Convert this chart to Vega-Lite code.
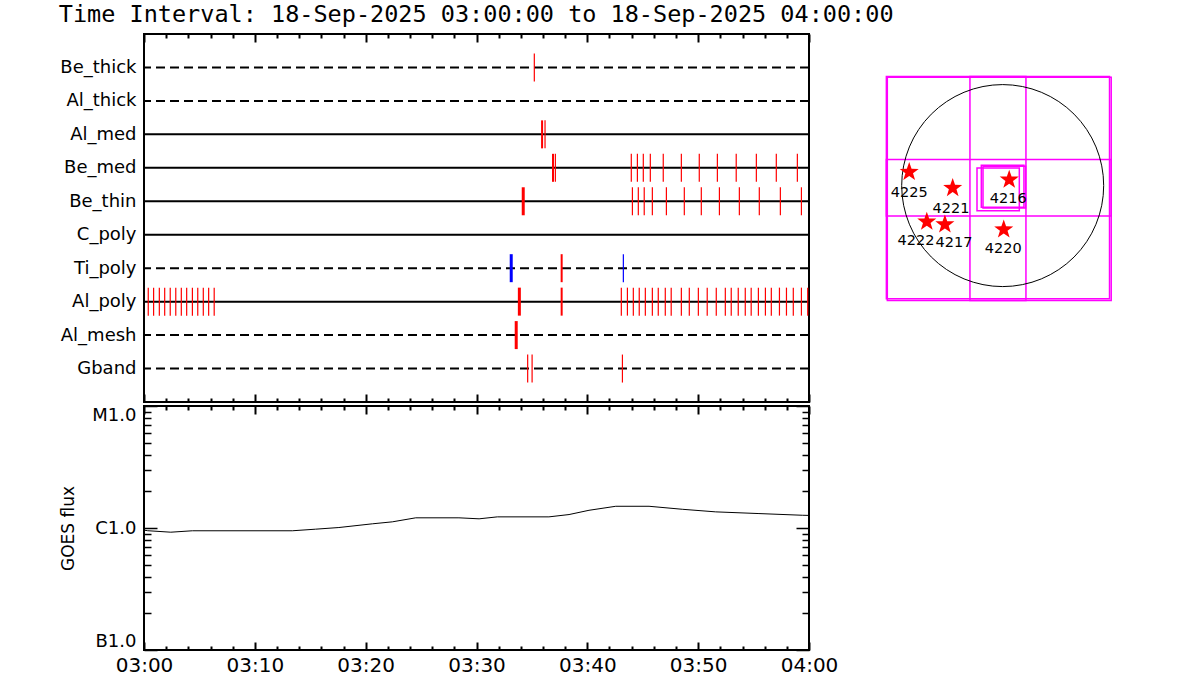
{
  "$schema": "https://vega.github.io/schema/vega-lite/v6.json",
  "padding": {"left": 58, "top": 2, "right": 5, "bottom": 5},
  "background": "white",
  "config": {
    "font": "DejaVu Sans",
    "view": {"stroke": "black", "strokeWidth": 2},
    "axis": {"labelColor": "black", "titleColor": "black", "tickColor": "black", "grid": false, "domain": false, "labelFont": "DejaVu Sans", "titleFont": "DejaVu Sans"}
  },
  "title": {"text": "Time Interval: 18-Sep-2025 03:00:00 to 18-Sep-2025 04:00:00", "anchor": "start", "font": "DejaVu Sans Mono", "fontSize": 23.5, "fontWeight": "normal", "color": "black", "offset": 6},
  "datasets": {
    "filters": [
      {"filter": "Be_thick", "wheel": "FW2"},
      {"filter": "Al_thick", "wheel": "FW2"},
      {"filter": "Al_med", "wheel": "FW1"},
      {"filter": "Be_med", "wheel": "FW1"},
      {"filter": "Be_thin", "wheel": "FW1"},
      {"filter": "C_poly", "wheel": "FW1"},
      {"filter": "Ti_poly", "wheel": "FW2"},
      {"filter": "Al_poly", "wheel": "FW1"},
      {"filter": "Al_mesh", "wheel": "FW2"},
      {"filter": "Gband", "wheel": "FW2"}
    ],
    "obs": [
      {"filter": "Be_thick", "time": "2025-09-18T03:35:13", "group": "A", "weight": "light"},
      {"filter": "Al_med", "time": "2025-09-18T03:35:55", "group": "A", "weight": "medium"},
      {"filter": "Al_med", "time": "2025-09-18T03:36:11", "group": "A", "weight": "light"},
      {"filter": "Be_med", "time": "2025-09-18T03:36:54", "group": "A", "weight": "medium"},
      {"filter": "Be_med", "time": "2025-09-18T03:37:07", "group": "A", "weight": "light"},
      {"filter": "Be_med", "time": "2025-09-18T03:43:58", "group": "A", "weight": "light"},
      {"filter": "Be_med", "time": "2025-09-18T03:44:31", "group": "A", "weight": "light"},
      {"filter": "Be_med", "time": "2025-09-18T03:45:03", "group": "A", "weight": "light"},
      {"filter": "Be_med", "time": "2025-09-18T03:45:41", "group": "A", "weight": "light"},
      {"filter": "Be_med", "time": "2025-09-18T03:46:51", "group": "A", "weight": "light"},
      {"filter": "Be_med", "time": "2025-09-18T03:48:29", "group": "A", "weight": "light"},
      {"filter": "Be_med", "time": "2025-09-18T03:50:06", "group": "A", "weight": "light"},
      {"filter": "Be_med", "time": "2025-09-18T03:51:44", "group": "A", "weight": "light"},
      {"filter": "Be_med", "time": "2025-09-18T03:53:26", "group": "A", "weight": "light"},
      {"filter": "Be_med", "time": "2025-09-18T03:55:15", "group": "A", "weight": "light"},
      {"filter": "Be_med", "time": "2025-09-18T03:57:03", "group": "A", "weight": "light"},
      {"filter": "Be_med", "time": "2025-09-18T03:58:57", "group": "A", "weight": "light"},
      {"filter": "Be_thin", "time": "2025-09-18T03:34:13", "group": "A", "weight": "heavy"},
      {"filter": "Be_thin", "time": "2025-09-18T03:44:04", "group": "A", "weight": "light"},
      {"filter": "Be_thin", "time": "2025-09-18T03:44:36", "group": "A", "weight": "light"},
      {"filter": "Be_thin", "time": "2025-09-18T03:45:08", "group": "A", "weight": "light"},
      {"filter": "Be_thin", "time": "2025-09-18T03:45:52", "group": "A", "weight": "light"},
      {"filter": "Be_thin", "time": "2025-09-18T03:47:08", "group": "A", "weight": "light"},
      {"filter": "Be_thin", "time": "2025-09-18T03:48:45", "group": "A", "weight": "light"},
      {"filter": "Be_thin", "time": "2025-09-18T03:50:17", "group": "A", "weight": "light"},
      {"filter": "Be_thin", "time": "2025-09-18T03:51:55", "group": "A", "weight": "light"},
      {"filter": "Be_thin", "time": "2025-09-18T03:53:43", "group": "A", "weight": "light"},
      {"filter": "Be_thin", "time": "2025-09-18T03:55:31", "group": "A", "weight": "light"},
      {"filter": "Be_thin", "time": "2025-09-18T03:57:25", "group": "A", "weight": "light"},
      {"filter": "Be_thin", "time": "2025-09-18T03:59:19", "group": "A", "weight": "light"},
      {"filter": "Ti_poly", "time": "2025-09-18T03:33:08", "group": "B", "weight": "heavy"},
      {"filter": "Ti_poly", "time": "2025-09-18T03:37:41", "group": "A", "weight": "medium"},
      {"filter": "Ti_poly", "time": "2025-09-18T03:43:15", "group": "B", "weight": "light"},
      {"filter": "Al_poly", "time": "2025-09-18T03:00:23", "group": "A", "weight": "light"},
      {"filter": "Al_poly", "time": "2025-09-18T03:00:52", "group": "A", "weight": "light"},
      {"filter": "Al_poly", "time": "2025-09-18T03:01:23", "group": "A", "weight": "light"},
      {"filter": "Al_poly", "time": "2025-09-18T03:01:52", "group": "A", "weight": "light"},
      {"filter": "Al_poly", "time": "2025-09-18T03:02:22", "group": "A", "weight": "light"},
      {"filter": "Al_poly", "time": "2025-09-18T03:02:52", "group": "A", "weight": "light"},
      {"filter": "Al_poly", "time": "2025-09-18T03:03:22", "group": "A", "weight": "light"},
      {"filter": "Al_poly", "time": "2025-09-18T03:03:51", "group": "A", "weight": "light"},
      {"filter": "Al_poly", "time": "2025-09-18T03:04:22", "group": "A", "weight": "light"},
      {"filter": "Al_poly", "time": "2025-09-18T03:04:51", "group": "A", "weight": "light"},
      {"filter": "Al_poly", "time": "2025-09-18T03:05:21", "group": "A", "weight": "light"},
      {"filter": "Al_poly", "time": "2025-09-18T03:05:50", "group": "A", "weight": "light"},
      {"filter": "Al_poly", "time": "2025-09-18T03:06:20", "group": "A", "weight": "light"},
      {"filter": "Al_poly", "time": "2025-09-18T03:33:52", "group": "A", "weight": "heavy"},
      {"filter": "Al_poly", "time": "2025-09-18T03:37:41", "group": "A", "weight": "medium"},
      {"filter": "Al_poly", "time": "2025-09-18T03:43:04", "group": "A", "weight": "light"},
      {"filter": "Al_poly", "time": "2025-09-18T03:43:37", "group": "A", "weight": "light"},
      {"filter": "Al_poly", "time": "2025-09-18T03:44:09", "group": "A", "weight": "light"},
      {"filter": "Al_poly", "time": "2025-09-18T03:44:41", "group": "A", "weight": "light"},
      {"filter": "Al_poly", "time": "2025-09-18T03:45:14", "group": "A", "weight": "light"},
      {"filter": "Al_poly", "time": "2025-09-18T03:45:52", "group": "A", "weight": "light"},
      {"filter": "Al_poly", "time": "2025-09-18T03:46:24", "group": "A", "weight": "light"},
      {"filter": "Al_poly", "time": "2025-09-18T03:47:02", "group": "A", "weight": "light"},
      {"filter": "Al_poly", "time": "2025-09-18T03:47:34", "group": "A", "weight": "light"},
      {"filter": "Al_poly", "time": "2025-09-18T03:48:29", "group": "A", "weight": "light"},
      {"filter": "Al_poly", "time": "2025-09-18T03:49:12", "group": "A", "weight": "light"},
      {"filter": "Al_poly", "time": "2025-09-18T03:50:01", "group": "A", "weight": "light"},
      {"filter": "Al_poly", "time": "2025-09-18T03:50:49", "group": "A", "weight": "light"},
      {"filter": "Al_poly", "time": "2025-09-18T03:51:38", "group": "A", "weight": "light"},
      {"filter": "Al_poly", "time": "2025-09-18T03:52:27", "group": "A", "weight": "light"},
      {"filter": "Al_poly", "time": "2025-09-18T03:52:59", "group": "A", "weight": "light"},
      {"filter": "Al_poly", "time": "2025-09-18T03:53:37", "group": "A", "weight": "light"},
      {"filter": "Al_poly", "time": "2025-09-18T03:54:15", "group": "A", "weight": "light"},
      {"filter": "Al_poly", "time": "2025-09-18T03:54:47", "group": "A", "weight": "light"},
      {"filter": "Al_poly", "time": "2025-09-18T03:55:26", "group": "A", "weight": "light"},
      {"filter": "Al_poly", "time": "2025-09-18T03:56:04", "group": "A", "weight": "light"},
      {"filter": "Al_poly", "time": "2025-09-18T03:56:36", "group": "A", "weight": "light"},
      {"filter": "Al_poly", "time": "2025-09-18T03:57:20", "group": "A", "weight": "light"},
      {"filter": "Al_poly", "time": "2025-09-18T03:57:58", "group": "A", "weight": "light"},
      {"filter": "Al_poly", "time": "2025-09-18T03:58:35", "group": "A", "weight": "light"},
      {"filter": "Al_poly", "time": "2025-09-18T03:59:19", "group": "A", "weight": "light"},
      {"filter": "Al_poly", "time": "2025-09-18T03:59:53", "group": "A", "weight": "light"},
      {"filter": "Al_mesh", "time": "2025-09-18T03:33:35", "group": "A", "weight": "heavy"},
      {"filter": "Gband", "time": "2025-09-18T03:34:37", "group": "A", "weight": "light"},
      {"filter": "Gband", "time": "2025-09-18T03:35:01", "group": "A", "weight": "light"},
      {"filter": "Gband", "time": "2025-09-18T03:43:10", "group": "A", "weight": "light"}
    ],
    "goes": [
      {"time": "2025-09-18T03:00:00", "flux": 9.6e-7},
      {"time": "2025-09-18T03:00:20", "flux": 9.5e-7},
      {"time": "2025-09-18T03:02:25", "flux": 9.24e-7},
      {"time": "2025-09-18T03:04:22", "flux": 9.49e-7},
      {"time": "2025-09-18T03:13:23", "flux": 9.49e-7},
      {"time": "2025-09-18T03:15:29", "flux": 9.78e-7},
      {"time": "2025-09-18T03:17:35", "flux": 1.009e-6},
      {"time": "2025-09-18T03:20:36", "flux": 1.082e-6},
      {"time": "2025-09-18T03:22:24", "flux": 1.123e-6},
      {"time": "2025-09-18T03:24:31", "flux": 1.212e-6},
      {"time": "2025-09-18T03:28:25", "flux": 1.212e-6},
      {"time": "2025-09-18T03:30:14", "flux": 1.189e-6},
      {"time": "2025-09-18T03:31:53", "flux": 1.234e-6},
      {"time": "2025-09-18T03:36:32", "flux": 1.234e-6},
      {"time": "2025-09-18T03:38:21", "flux": 1.289e-6},
      {"time": "2025-09-18T03:40:09", "flux": 1.397e-6},
      {"time": "2025-09-18T03:42:34", "flux": 1.507e-6},
      {"time": "2025-09-18T03:45:34", "flux": 1.507e-6},
      {"time": "2025-09-18T03:48:34", "flux": 1.424e-6},
      {"time": "2025-09-18T03:51:35", "flux": 1.356e-6},
      {"time": "2025-09-18T03:55:29", "flux": 1.313e-6},
      {"time": "2025-09-18T03:59:24", "flux": 1.272e-6},
      {"time": "2025-09-18T04:00:00", "flux": 1.268e-6}
    ],
    "fov": [
      {"x1": -1105, "x2": 1015, "y1": 1037, "y2": -1076},
      {"x1": -1096, "x2": 1031, "y1": 1028, "y2": -1092},
      {"x1": -311, "x2": 221, "y1": 1037, "y2": -1092},
      {"x1": -1105, "x2": 1031, "y1": 247, "y2": -289},
      {"x1": -244, "x2": 158, "y1": 167, "y2": -238},
      {"x1": -203, "x2": 202, "y1": 193, "y2": -206},
      {"x1": -187, "x2": 218, "y1": 183, "y2": -213}
    ],
    "regions": [
      {"noaa": "4225", "x": -888, "y": 129, "lx": -888, "ly": -66},
      {"noaa": "4221", "x": -475, "y": -24, "lx": -491, "ly": -223},
      {"noaa": "4216", "x": 62, "y": 56, "lx": 52, "ly": -129},
      {"noaa": "4222", "x": -721, "y": -343, "lx": -824, "ly": -526},
      {"noaa": "4217", "x": -549, "y": -369, "lx": -463, "ly": -550},
      {"noaa": "4220", "x": 10, "y": -417, "lx": 5, "ly": -599}
    ],
    "sun": [{"x": 0, "y": 0}]
  },
  "hconcat": [
    {
      "vconcat": [
        {
          "width": 665,
          "height": 368,
          "resolve": {"axis": {"x": "independent"}},
          "layer": [
            {
              "data": {"name": "filters"},
              "mark": {"type": "rule", "color": "black", "strokeWidth": 2},
              "encoding": {
                "y": {"field": "filter", "type": "nominal", "scale": {"type": "point", "padding": 1, "domain": ["Be_thick", "Al_thick", "Al_med", "Be_med", "Be_thin", "C_poly", "Ti_poly", "Al_poly", "Al_mesh", "Gband"]}, "axis": {"title": null, "ticks": false, "domain": false, "labelFontSize": 18, "labelPadding": 8, "labelColor": "black"}},
                "strokeDash": {"field": "wheel", "type": "nominal", "scale": {"domain": ["FW1", "FW2"], "range": [[1, 0], [9, 5]]}, "legend": null}
              }
            },
            {
              "data": {"name": "obs"},
              "transform": [{"filter": "datum.weight == 'heavy'"}],
              "mark": {"type": "tick", "orient": "vertical", "size": 28, "thickness": 3, "opacity": 1},
              "encoding": {
                "x": {"field": "time", "type": "temporal", "scale": {"domain": [{"year": 2025, "month": 9, "date": 18, "hours": 3}, {"year": 2025, "month": 9, "date": 18, "hours": 4}], "nice": false}, "axis": {"orient": "bottom", "title": null, "labels": false, "domain": false, "offset": -8, "tickSize": 8, "tickWidth": 2, "minExtent": 0, "maxExtent": 0, "values": [{"year": 2025, "month": 9, "date": 18, "hours": 3, "minutes": 0}, {"year": 2025, "month": 9, "date": 18, "hours": 3, "minutes": 10}, {"year": 2025, "month": 9, "date": 18, "hours": 3, "minutes": 20}, {"year": 2025, "month": 9, "date": 18, "hours": 3, "minutes": 30}, {"year": 2025, "month": 9, "date": 18, "hours": 3, "minutes": 40}, {"year": 2025, "month": 9, "date": 18, "hours": 3, "minutes": 50}, {"year": 2025, "month": 9, "date": 18, "hours": 4, "minutes": 0}]}},
                "y": {"field": "filter", "type": "nominal"},
                "color": {"field": "group", "type": "nominal", "scale": {"domain": ["A", "B"], "range": ["#ff0000", "#0000ff"]}, "legend": null}
              }
            },
            {
              "data": {"name": "obs"},
              "transform": [{"filter": "datum.weight == 'medium'"}],
              "mark": {"type": "tick", "orient": "vertical", "size": 28, "thickness": 2, "opacity": 1},
              "encoding": {
                "x": {"field": "time", "type": "temporal", "axis": {"orient": "top", "title": null, "labels": false, "domain": false, "offset": -8, "tickSize": 8, "tickWidth": 2, "minExtent": 0, "maxExtent": 0, "values": [{"year": 2025, "month": 9, "date": 18, "hours": 3, "minutes": 0}, {"year": 2025, "month": 9, "date": 18, "hours": 3, "minutes": 10}, {"year": 2025, "month": 9, "date": 18, "hours": 3, "minutes": 20}, {"year": 2025, "month": 9, "date": 18, "hours": 3, "minutes": 30}, {"year": 2025, "month": 9, "date": 18, "hours": 3, "minutes": 40}, {"year": 2025, "month": 9, "date": 18, "hours": 3, "minutes": 50}, {"year": 2025, "month": 9, "date": 18, "hours": 4, "minutes": 0}]}},
                "y": {"field": "filter", "type": "nominal"},
                "color": {"field": "group", "type": "nominal", "legend": null}
              }
            },
            {
              "data": {"name": "obs"},
              "transform": [{"filter": "datum.weight == 'light'"}],
              "mark": {"type": "tick", "orient": "vertical", "size": 28, "thickness": 1.2, "opacity": 1},
              "encoding": {
                "x": {"field": "time", "type": "temporal", "axis": {"orient": "bottom", "title": null, "labels": false, "domain": false, "offset": -4, "tickSize": 4, "tickWidth": 2, "minExtent": 0, "maxExtent": 0, "values": [{"year": 2025, "month": 9, "date": 18, "hours": 3, "minutes": 2}, {"year": 2025, "month": 9, "date": 18, "hours": 3, "minutes": 4}, {"year": 2025, "month": 9, "date": 18, "hours": 3, "minutes": 6}, {"year": 2025, "month": 9, "date": 18, "hours": 3, "minutes": 8}, {"year": 2025, "month": 9, "date": 18, "hours": 3, "minutes": 12}, {"year": 2025, "month": 9, "date": 18, "hours": 3, "minutes": 14}, {"year": 2025, "month": 9, "date": 18, "hours": 3, "minutes": 16}, {"year": 2025, "month": 9, "date": 18, "hours": 3, "minutes": 18}, {"year": 2025, "month": 9, "date": 18, "hours": 3, "minutes": 22}, {"year": 2025, "month": 9, "date": 18, "hours": 3, "minutes": 24}, {"year": 2025, "month": 9, "date": 18, "hours": 3, "minutes": 26}, {"year": 2025, "month": 9, "date": 18, "hours": 3, "minutes": 28}, {"year": 2025, "month": 9, "date": 18, "hours": 3, "minutes": 32}, {"year": 2025, "month": 9, "date": 18, "hours": 3, "minutes": 34}, {"year": 2025, "month": 9, "date": 18, "hours": 3, "minutes": 36}, {"year": 2025, "month": 9, "date": 18, "hours": 3, "minutes": 38}, {"year": 2025, "month": 9, "date": 18, "hours": 3, "minutes": 42}, {"year": 2025, "month": 9, "date": 18, "hours": 3, "minutes": 44}, {"year": 2025, "month": 9, "date": 18, "hours": 3, "minutes": 46}, {"year": 2025, "month": 9, "date": 18, "hours": 3, "minutes": 48}, {"year": 2025, "month": 9, "date": 18, "hours": 3, "minutes": 52}, {"year": 2025, "month": 9, "date": 18, "hours": 3, "minutes": 54}, {"year": 2025, "month": 9, "date": 18, "hours": 3, "minutes": 56}, {"year": 2025, "month": 9, "date": 18, "hours": 3, "minutes": 58}]}},
                "y": {"field": "filter", "type": "nominal"},
                "color": {"field": "group", "type": "nominal", "legend": null}
              }
            },
            {
              "data": {"name": "obs"},
              "mark": {"type": "tick", "orient": "vertical", "size": 28, "thickness": 1, "opacity": 0},
              "encoding": {
                "x": {"field": "time", "type": "temporal", "axis": {"orient": "top", "title": null, "labels": false, "domain": false, "offset": -4, "tickSize": 4, "tickWidth": 2, "minExtent": 0, "maxExtent": 0, "values": [{"year": 2025, "month": 9, "date": 18, "hours": 3, "minutes": 2}, {"year": 2025, "month": 9, "date": 18, "hours": 3, "minutes": 4}, {"year": 2025, "month": 9, "date": 18, "hours": 3, "minutes": 6}, {"year": 2025, "month": 9, "date": 18, "hours": 3, "minutes": 8}, {"year": 2025, "month": 9, "date": 18, "hours": 3, "minutes": 12}, {"year": 2025, "month": 9, "date": 18, "hours": 3, "minutes": 14}, {"year": 2025, "month": 9, "date": 18, "hours": 3, "minutes": 16}, {"year": 2025, "month": 9, "date": 18, "hours": 3, "minutes": 18}, {"year": 2025, "month": 9, "date": 18, "hours": 3, "minutes": 22}, {"year": 2025, "month": 9, "date": 18, "hours": 3, "minutes": 24}, {"year": 2025, "month": 9, "date": 18, "hours": 3, "minutes": 26}, {"year": 2025, "month": 9, "date": 18, "hours": 3, "minutes": 28}, {"year": 2025, "month": 9, "date": 18, "hours": 3, "minutes": 32}, {"year": 2025, "month": 9, "date": 18, "hours": 3, "minutes": 34}, {"year": 2025, "month": 9, "date": 18, "hours": 3, "minutes": 36}, {"year": 2025, "month": 9, "date": 18, "hours": 3, "minutes": 38}, {"year": 2025, "month": 9, "date": 18, "hours": 3, "minutes": 42}, {"year": 2025, "month": 9, "date": 18, "hours": 3, "minutes": 44}, {"year": 2025, "month": 9, "date": 18, "hours": 3, "minutes": 46}, {"year": 2025, "month": 9, "date": 18, "hours": 3, "minutes": 48}, {"year": 2025, "month": 9, "date": 18, "hours": 3, "minutes": 52}, {"year": 2025, "month": 9, "date": 18, "hours": 3, "minutes": 54}, {"year": 2025, "month": 9, "date": 18, "hours": 3, "minutes": 56}, {"year": 2025, "month": 9, "date": 18, "hours": 3, "minutes": 58}]}},
                "y": {"field": "filter", "type": "nominal"}
              }
            }
          ]
        },
        {
          "width": 665,
          "height": 244,
          "resolve": {"axis": {"x": "independent", "y": "independent"}},
          "layer": [
            {
              "data": {"name": "goes"},
              "mark": {"type": "line", "color": "black", "strokeWidth": 1},
              "encoding": {
                "x": {"field": "time", "type": "temporal", "scale": {"domain": [{"year": 2025, "month": 9, "date": 18, "hours": 3}, {"year": 2025, "month": 9, "date": 18, "hours": 4}], "nice": false}, "axis": {"orient": "bottom", "title": null, "format": "%H:%M", "labelFontSize": 20, "labelPadding": 5, "domain": false, "offset": -8, "tickSize": 8, "tickWidth": 2, "labelFlush": false, "labelOverlap": false, "values": [{"year": 2025, "month": 9, "date": 18, "hours": 3, "minutes": 0}, {"year": 2025, "month": 9, "date": 18, "hours": 3, "minutes": 10}, {"year": 2025, "month": 9, "date": 18, "hours": 3, "minutes": 20}, {"year": 2025, "month": 9, "date": 18, "hours": 3, "minutes": 30}, {"year": 2025, "month": 9, "date": 18, "hours": 3, "minutes": 40}, {"year": 2025, "month": 9, "date": 18, "hours": 3, "minutes": 50}, {"year": 2025, "month": 9, "date": 18, "hours": 4, "minutes": 0}]}},
                "y": {"field": "flux", "type": "quantitative", "scale": {"type": "log", "domain": [1e-7, 1e-5], "nice": false}, "axis": {"orient": "left", "title": "GOES flux", "titleFontSize": 17, "titleFontWeight": "normal", "titlePadding": 14, "labelFontSize": 18, "labelPadding": 8, "domain": false, "offset": -13, "tickSize": 13, "tickWidth": 1.5, "values": [1e-7, 1e-6, 1e-5], "labelExpr": "datum.value > 5e-6 ? 'M1.0' : datum.value > 5e-7 ? 'C1.0' : 'B1.0'", "labelFlush": true, "labelOverlap": false}}
              }
            },
            {
              "data": {"name": "goes"},
              "mark": {"type": "line", "color": "black", "opacity": 0},
              "encoding": {
                "x": {"field": "time", "type": "temporal", "axis": {"orient": "top", "title": null, "labels": false, "domain": false, "offset": -8, "tickSize": 8, "tickWidth": 2, "minExtent": 0, "maxExtent": 0, "values": [{"year": 2025, "month": 9, "date": 18, "hours": 3, "minutes": 0}, {"year": 2025, "month": 9, "date": 18, "hours": 3, "minutes": 10}, {"year": 2025, "month": 9, "date": 18, "hours": 3, "minutes": 20}, {"year": 2025, "month": 9, "date": 18, "hours": 3, "minutes": 30}, {"year": 2025, "month": 9, "date": 18, "hours": 3, "minutes": 40}, {"year": 2025, "month": 9, "date": 18, "hours": 3, "minutes": 50}, {"year": 2025, "month": 9, "date": 18, "hours": 4, "minutes": 0}]}},
                "y": {"field": "flux", "type": "quantitative", "axis": {"orient": "right", "title": null, "labels": false, "domain": false, "offset": -13, "tickSize": 13, "tickWidth": 1.5, "minExtent": 0, "maxExtent": 0, "values": [1e-7, 1e-6, 1e-5]}}
              }
            },
            {
              "data": {"name": "goes"},
              "mark": {"type": "line", "color": "black", "opacity": 0},
              "encoding": {
                "x": {"field": "time", "type": "temporal", "axis": {"orient": "bottom", "title": null, "labels": false, "domain": false, "offset": -4, "tickSize": 4, "tickWidth": 2, "minExtent": 0, "maxExtent": 0, "values": [{"year": 2025, "month": 9, "date": 18, "hours": 3, "minutes": 2}, {"year": 2025, "month": 9, "date": 18, "hours": 3, "minutes": 4}, {"year": 2025, "month": 9, "date": 18, "hours": 3, "minutes": 6}, {"year": 2025, "month": 9, "date": 18, "hours": 3, "minutes": 8}, {"year": 2025, "month": 9, "date": 18, "hours": 3, "minutes": 12}, {"year": 2025, "month": 9, "date": 18, "hours": 3, "minutes": 14}, {"year": 2025, "month": 9, "date": 18, "hours": 3, "minutes": 16}, {"year": 2025, "month": 9, "date": 18, "hours": 3, "minutes": 18}, {"year": 2025, "month": 9, "date": 18, "hours": 3, "minutes": 22}, {"year": 2025, "month": 9, "date": 18, "hours": 3, "minutes": 24}, {"year": 2025, "month": 9, "date": 18, "hours": 3, "minutes": 26}, {"year": 2025, "month": 9, "date": 18, "hours": 3, "minutes": 28}, {"year": 2025, "month": 9, "date": 18, "hours": 3, "minutes": 32}, {"year": 2025, "month": 9, "date": 18, "hours": 3, "minutes": 34}, {"year": 2025, "month": 9, "date": 18, "hours": 3, "minutes": 36}, {"year": 2025, "month": 9, "date": 18, "hours": 3, "minutes": 38}, {"year": 2025, "month": 9, "date": 18, "hours": 3, "minutes": 42}, {"year": 2025, "month": 9, "date": 18, "hours": 3, "minutes": 44}, {"year": 2025, "month": 9, "date": 18, "hours": 3, "minutes": 46}, {"year": 2025, "month": 9, "date": 18, "hours": 3, "minutes": 48}, {"year": 2025, "month": 9, "date": 18, "hours": 3, "minutes": 52}, {"year": 2025, "month": 9, "date": 18, "hours": 3, "minutes": 54}, {"year": 2025, "month": 9, "date": 18, "hours": 3, "minutes": 56}, {"year": 2025, "month": 9, "date": 18, "hours": 3, "minutes": 58}]}},
                "y": {"field": "flux", "type": "quantitative", "axis": {"orient": "left", "title": null, "labels": false, "domain": false, "offset": -7, "tickSize": 7, "tickWidth": 1.5, "minExtent": 0, "maxExtent": 0, "values": [2e-7, 3e-7, 4e-7, 5e-7, 6e-7, 7e-7, 8e-7, 9e-7, 2e-6, 3e-6, 4e-6, 5e-6, 6e-6, 7e-6, 8e-6, 9e-6]}}
              }
            },
            {
              "data": {"name": "goes"},
              "mark": {"type": "line", "color": "black", "opacity": 0},
              "encoding": {
                "x": {"field": "time", "type": "temporal", "axis": {"orient": "top", "title": null, "labels": false, "domain": false, "offset": -4, "tickSize": 4, "tickWidth": 2, "minExtent": 0, "maxExtent": 0, "values": [{"year": 2025, "month": 9, "date": 18, "hours": 3, "minutes": 2}, {"year": 2025, "month": 9, "date": 18, "hours": 3, "minutes": 4}, {"year": 2025, "month": 9, "date": 18, "hours": 3, "minutes": 6}, {"year": 2025, "month": 9, "date": 18, "hours": 3, "minutes": 8}, {"year": 2025, "month": 9, "date": 18, "hours": 3, "minutes": 12}, {"year": 2025, "month": 9, "date": 18, "hours": 3, "minutes": 14}, {"year": 2025, "month": 9, "date": 18, "hours": 3, "minutes": 16}, {"year": 2025, "month": 9, "date": 18, "hours": 3, "minutes": 18}, {"year": 2025, "month": 9, "date": 18, "hours": 3, "minutes": 22}, {"year": 2025, "month": 9, "date": 18, "hours": 3, "minutes": 24}, {"year": 2025, "month": 9, "date": 18, "hours": 3, "minutes": 26}, {"year": 2025, "month": 9, "date": 18, "hours": 3, "minutes": 28}, {"year": 2025, "month": 9, "date": 18, "hours": 3, "minutes": 32}, {"year": 2025, "month": 9, "date": 18, "hours": 3, "minutes": 34}, {"year": 2025, "month": 9, "date": 18, "hours": 3, "minutes": 36}, {"year": 2025, "month": 9, "date": 18, "hours": 3, "minutes": 38}, {"year": 2025, "month": 9, "date": 18, "hours": 3, "minutes": 42}, {"year": 2025, "month": 9, "date": 18, "hours": 3, "minutes": 44}, {"year": 2025, "month": 9, "date": 18, "hours": 3, "minutes": 46}, {"year": 2025, "month": 9, "date": 18, "hours": 3, "minutes": 48}, {"year": 2025, "month": 9, "date": 18, "hours": 3, "minutes": 52}, {"year": 2025, "month": 9, "date": 18, "hours": 3, "minutes": 54}, {"year": 2025, "month": 9, "date": 18, "hours": 3, "minutes": 56}, {"year": 2025, "month": 9, "date": 18, "hours": 3, "minutes": 58}]}},
                "y": {"field": "flux", "type": "quantitative", "axis": {"orient": "right", "title": null, "labels": false, "domain": false, "offset": -7, "tickSize": 7, "tickWidth": 1.5, "minExtent": 0, "maxExtent": 0, "values": [2e-7, 3e-7, 4e-7, 5e-7, 6e-7, 7e-7, 8e-7, 9e-7, 2e-6, 3e-6, 4e-6, 5e-6, 6e-6, 7e-6, 8e-6, 9e-6]}}
              }
            }
          ]
        }
      ],
      "spacing": 0
    },
    {
      "width": 280,
      "height": 368,
      "view": {"stroke": null},
      "layer": [
        {
          "data": {"name": "fov"},
          "mark": {"type": "rect", "filled": false, "color": "#ff00ff", "strokeWidth": 1.5},
          "encoding": {
            "x": {"field": "x1", "type": "quantitative", "scale": {"domain": [-1365, 1295], "nice": false, "zero": false}, "axis": null},
            "x2": {"field": "x2"},
            "y": {"field": "y1", "type": "quantitative", "scale": {"domain": [-2056, 1440], "nice": false, "zero": false}, "axis": null},
            "y2": {"field": "y2"}
          }
        },
        {
          "data": {"name": "sun"},
          "mark": {"type": "point", "shape": "circle", "size": 40804, "filled": false, "color": "black", "strokeWidth": 1, "opacity": 1},
          "encoding": {
            "x": {"field": "x", "type": "quantitative"},
            "y": {"field": "y", "type": "quantitative"}
          }
        },
        {
          "data": {"name": "regions"},
          "mark": {"type": "point", "shape": "M0,-1L0.235,-0.324L0.951,-0.309L0.38,0.124L0.588,0.809L0,0.4L-0.588,0.809L-0.38,0.124L-0.951,-0.309L-0.235,-0.324Z", "size": 400, "filled": true, "color": "#ff0000", "opacity": 1},
          "encoding": {
            "x": {"field": "x", "type": "quantitative"},
            "y": {"field": "y", "type": "quantitative"}
          }
        },
        {
          "data": {"name": "regions"},
          "mark": {"type": "text", "fontSize": 14.5, "color": "black", "font": "DejaVu Sans"},
          "encoding": {
            "x": {"field": "lx", "type": "quantitative"},
            "y": {"field": "ly", "type": "quantitative"},
            "text": {"field": "noaa", "type": "nominal"}
          }
        }
      ]
    }
  ],
  "spacing": 20
}
